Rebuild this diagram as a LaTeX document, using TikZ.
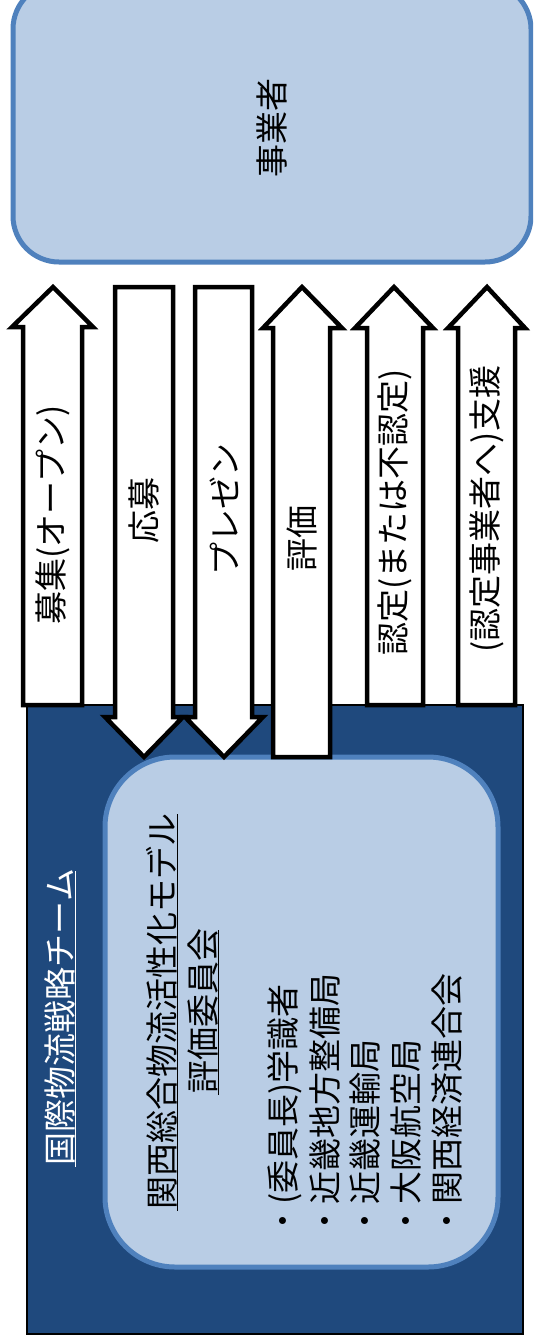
\documentclass[tikz,border=0pt]{standalone}
\usepackage{fontspec}
\setmainfont{Noto Sans CJK JP}
\definecolor{boxfill}{HTML}{B9CDE5}
\definecolor{boxline}{HTML}{4F81BD}
\definecolor{darkblue}{HTML}{1F497D}
\begin{document}
\begin{tikzpicture}[x=1pt,y=-1pt,
  lab/.style={rotate=90, inner sep=0pt, font=\fontsize{33}{40}\selectfont},
  barrow/.style={draw=black, fill=white, line width=4.5pt, line join=miter, miter limit=10},
  lightbox/.style={draw=boxline, fill=boxfill, line width=5pt, inner sep=0pt},
  uline/.style={line width=1.8pt}]
\useasboundingbox (0,0) rectangle (533,1344);
\clip (0,0) rectangle (533,1344);
\fill[white] (0,0) rectangle (533,1344);

% top box
\node[lightbox, rounded corners=46pt, minimum width=518pt, minimum height=279pt] (biz) at (272,122.5) {};
\node[lab] (biztext) at (272,128) {事業者};

% dark team box
\node[draw=black, fill=darkblue, line width=1.5pt, inner sep=0pt, minimum width=496pt, minimum height=629pt] (team) at (275,1019.5) {};
\node[lab, text=white] (teamtext) at (60,1017) {国際物流戦略チーム};
\draw[uline, white] ([yshift=-2pt]teamtext.south west) -- ([yshift=-2pt]teamtext.south east);

% committee box
\node[lightbox, rounded corners=70pt, minimum width=393pt, minimum height=510pt] (com) at (301.5,1012) {};
\node[lab] (t1) at (162,1011) {関西総合物流活性化モデル};
\node[lab] (t2) at (203,1011) {評価委員会};
\draw[uline] ([yshift=-1.5pt]t1.south west) -- ([yshift=-1.5pt]t1.south east);
\draw[uline] ([yshift=-1.5pt]t2.south west) -- ([yshift=-1.5pt]t2.south east);
\node[lab, anchor=west] (m1) at (285,1238) {・(委員長)学識者};
\node[lab, anchor=west] (m2) at (325,1238) {・近畿地方整備局};
\node[lab, anchor=west] (m3) at (365,1238) {・近畿運輸局};
\node[lab, anchor=west] (m4) at (406,1238) {・大阪航空局};
\node[lab, anchor=west] (m5) at (447,1238) {・関西経済連合会};

% arrows
\draw[barrow] (23,705) -- (23,327) -- (12,327) -- (53,287) -- (93,327) -- (82,327) -- (82,705) -- cycle;
\draw[barrow] (115,287) -- (173,287) -- (173,717) -- (183,717) -- (144,757) -- (105,717) -- (115,717) -- cycle;
\draw[barrow] (195,287) -- (252,287) -- (252,717) -- (263,717) -- (224,757) -- (185,717) -- (195,717) -- cycle;
\draw[barrow] (273,757) -- (273,328) -- (263,328) -- (302,287) -- (342,328) -- (330,328) -- (330,757) -- cycle;
\draw[barrow] (367,705) -- (367,328) -- (355,328) -- (394,287) -- (433,328) -- (423,328) -- (423,705) -- cycle;
\draw[barrow] (458,705) -- (458,328) -- (448,328) -- (487,287) -- (525,328) -- (515,328) -- (515,705) -- cycle;

\node[lab] (a1) at (53,515) {募集(オープン)};
\node[lab] (a2) at (144,510) {応募};
\node[lab] (a3) at (224,509) {プレゼン};
\node[lab] (a4) at (302,538) {評価};
\node[lab] (a5) at (395,512) {認定(または不認定)};
\node[lab] (a6) at (487,509) {(認定事業者へ)支援};
\end{tikzpicture}
\end{document}
